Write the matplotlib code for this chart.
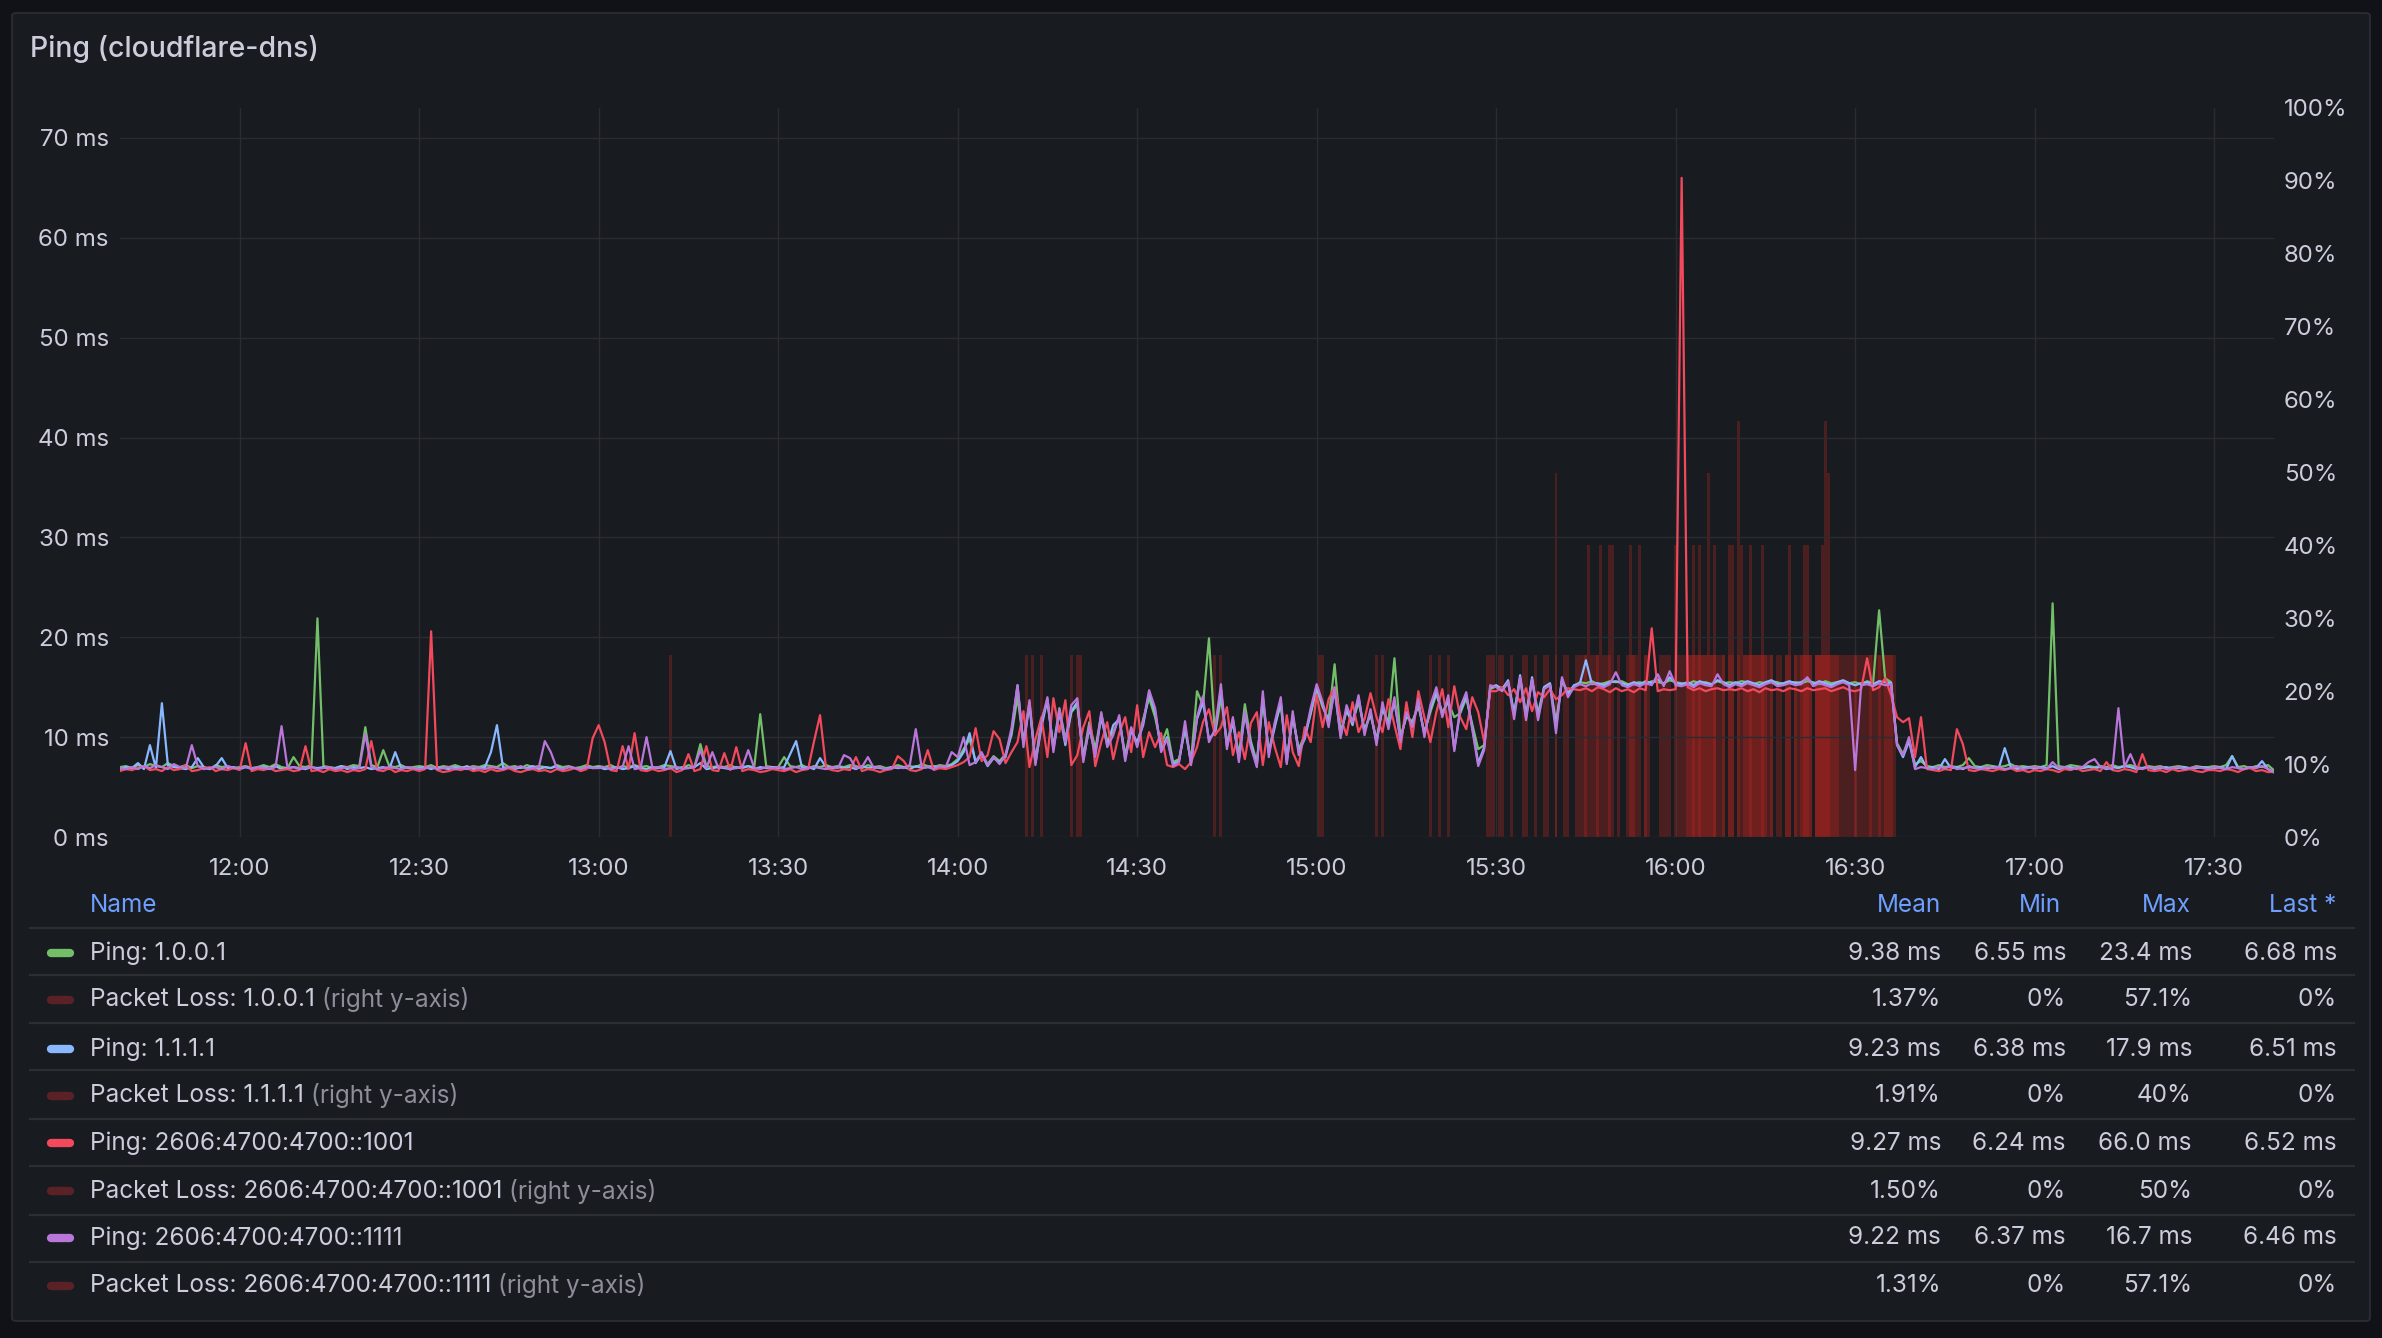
import numpy as np
import matplotlib
matplotlib.use("Agg")
import matplotlib.pyplot as plt
from matplotlib.patches import FancyBboxPatch
from matplotlib.lines import Line2D

plt.rcParams['font.family'] = ['Inter', 'DejaVu Sans']

W, H = 2382, 1338

title = "Ping (cloudflare-dns)"

# time axis: one ping sample per minute, minute 0 = 11:40, minute 360 = 17:40
x_tick_labels = ["12:00", "12:30", "13:00", "13:30", "14:00", "14:30",
                 "15:00", "15:30", "16:00", "16:30", "17:00", "17:30"]
ms_ticks = [0, 10, 20, 30, 40, 50, 60, 70]
pct_ticks = [0, 10, 20, 30, 40, 50, 60, 70, 80, 90, 100]

# ---- ping values (ms), rows of 10 minutes ----
ping_1001 = [  # Ping: 1.0.0.1
    7.0, 7.1, 6.9, 7.2, 7.0, 7.3, 7.1, 7.0, 7.4, 7.1,      # 11:40
    7.0, 7.2, 6.9, 7.1, 7.0, 6.8, 7.2, 7.0, 7.1, 6.9,      # 11:50
    7.0, 7.1, 6.9, 7.0, 7.2, 7.0, 7.3, 7.0, 6.9, 8.0,      # 12:00
    7.1, 7.0, 7.2, 21.9, 7.1, 7.0, 6.9, 7.1, 7.0, 7.2,     # 12:10
    7.1, 11.0, 7.2, 7.0, 8.7, 7.1, 7.0, 7.2, 6.9, 7.0,     # 12:20
    7.1, 7.0, 7.2, 6.9, 7.1, 7.0, 7.2, 7.0, 6.9, 7.1,      # 12:30
    7.0, 7.2, 7.1, 7.0, 7.4, 7.0, 7.1, 6.9, 7.2, 7.0,      # 12:40
    7.1, 7.0, 6.9, 7.2, 7.0, 7.1, 6.9, 7.0, 7.2, 7.0,      # 12:50
    7.1, 7.0, 7.2, 6.9, 7.1, 7.0, 7.2, 7.0, 7.1, 6.9,      # 13:00
    7.0, 7.2, 7.1, 7.0, 6.9, 7.2, 7.0, 9.3, 7.1, 7.0,      # 13:10
    7.1, 7.0, 7.2, 6.9, 7.0, 7.1, 7.0, 12.3, 7.1, 7.0,     # 13:20
    7.0, 8.0, 7.1, 7.0, 7.2, 6.9, 7.1, 7.0, 7.2, 7.0,      # 13:30
    7.1, 7.0, 7.2, 7.1, 6.9, 7.2, 7.0, 7.1, 6.9, 7.0,      # 13:40
    7.2, 7.0, 7.1, 7.0, 7.3, 7.1, 7.0, 7.2, 7.1, 7.3,      # 13:50
    7.8, 8.8, 9.8, 7.6, 8.4, 7.3, 8.1, 7.6, 8.3, 10.2,     # 14:00
    14.0, 9.5, 13.5, 7.6, 11.8, 13.5, 9.0, 12.9, 9.8, 12.5,  # 14:10
    13.2, 8.0, 11.5, 8.8, 12.3, 9.6, 10.5, 11.9, 8.2, 10.9,  # 14:20
    9.2, 11.8, 13.9, 12.0, 9.2, 10.8, 7.5, 7.8, 10.8, 7.6,   # 14:30
    14.6, 13.2, 19.9, 10.2, 14.0, 9.4, 11.8, 8.2, 13.3, 9.6,  # 14:40
    7.5, 13.6, 8.6, 11.3, 13.2, 7.8, 12.0, 8.8, 10.2, 12.3,  # 14:50
    14.8, 13.0, 11.8, 17.3, 10.5, 12.6, 11.5, 13.5, 10.8, 12.2,  # 15:00
    9.8, 12.8, 11.5, 17.9, 10.0, 12.0, 11.6, 13.1, 10.5, 12.5,   # 15:10
    14.3, 12.5, 13.5, 12.0, 12.4, 13.9, 11.3, 8.8, 9.2, 14.8,    # 15:20
    15.1, 14.9, 15.4, 12.5, 15.8, 12.3, 15.7, 12.4, 15.0, 15.3,  # 15:30
    11.5, 15.6, 14.5, 15.1, 15.5, 15.4, 15.6, 15.3, 15.4, 15.6,  # 15:40
    15.5, 15.6, 15.3, 15.4, 15.5, 15.3, 15.6, 15.5, 15.4, 15.7,  # 15:50
    15.5, 15.4, 15.3, 15.6, 15.4, 15.5, 15.3, 15.6, 15.4, 15.5,  # 16:00
    15.4, 15.6, 15.5, 15.3, 15.5, 15.4, 15.6, 15.5, 15.3, 15.5,  # 16:10
    15.5, 15.4, 15.6, 15.5, 15.3, 15.6, 15.4, 15.5, 15.6, 15.4,  # 16:20
    15.5, 15.3, 15.6, 15.4, 22.7, 15.9, 15.5, 9.4, 8.3, 9.8,     # 16:30
    7.3, 7.6, 7.1, 7.0, 7.2, 7.0, 7.1, 7.0, 7.2, 7.9,      # 16:40
    7.1, 7.0, 7.2, 7.1, 7.0, 7.1, 7.3, 7.0, 7.1, 7.0,      # 16:50
    7.1, 7.0, 7.2, 23.4, 7.1, 7.0, 7.2, 7.1, 7.0, 7.1,     # 17:00
    7.0, 7.1, 7.0, 7.2, 7.0, 7.1, 7.2, 7.0, 6.9, 7.1,      # 17:10
    7.0, 7.1, 6.9, 7.0, 7.1, 7.0, 6.9, 7.1, 7.0, 7.0,      # 17:20
    7.1, 7.0, 7.2, 8.1, 7.0, 7.1, 6.9, 7.1, 7.0, 7.2,      # 17:30
    6.68,                                                  # 17:40
]

ping_1111 = [  # Ping: 1.1.1.1
    6.8, 7.0, 6.9, 7.4, 6.8, 9.2, 6.9, 13.4, 7.2, 7.0,
    6.9, 6.8, 7.0, 7.9, 7.0, 6.8, 7.1, 7.9, 6.9, 7.0,
    6.8, 7.0, 6.9, 6.8, 7.0, 6.9, 7.1, 6.8, 6.9, 7.0,
    6.9, 6.8, 7.0, 6.9, 7.0, 6.8, 6.9, 7.1, 6.8, 7.0,
    6.9, 7.0, 6.8, 6.9, 7.0, 6.8, 8.5, 6.9, 7.0, 6.8,
    6.9, 7.0, 6.8, 7.0, 6.9, 6.8, 7.0, 6.9, 7.1, 6.8,
    6.9, 7.0, 8.5, 11.2, 7.0, 6.9, 6.8, 7.0, 6.9, 7.1,
    6.8, 7.0, 6.9, 7.1, 6.8, 7.0, 6.9, 6.8, 7.0, 6.9,
    7.0, 6.8, 6.9, 7.0, 6.8, 6.9, 7.1, 6.9, 6.8, 7.0,
    6.9, 7.0, 8.6, 6.8, 7.0, 6.9, 7.0, 7.4, 6.8, 6.9,
    7.0, 6.9, 6.8, 7.0, 6.9, 7.1, 6.8, 7.0, 6.9, 7.0,
    6.9, 7.0, 8.3, 9.6, 6.9, 7.0, 6.8, 7.9, 7.0, 6.9,
    7.0, 6.9, 7.0, 6.8, 7.1, 6.9, 7.0, 6.9, 6.8, 7.0,
    6.9, 7.0, 6.8, 7.1, 6.9, 7.0, 7.1, 6.9, 7.0, 7.2,
    7.6, 8.5, 10.4, 7.4, 8.3, 7.1, 7.9, 7.5, 8.0, 10.5,
    15.2, 9.3, 13.2, 7.4, 11.0, 13.8, 8.8, 12.5, 9.2, 12.6,
    13.5, 7.8, 10.9, 8.4, 12.0, 9.2, 11.2, 11.8, 7.9, 10.6,
    9.5, 11.2, 14.5, 12.5, 8.8, 10.0, 7.3, 7.6, 11.0, 7.4,
    11.8, 13.5, 9.8, 10.5, 14.8, 9.1, 11.5, 7.8, 12.3, 9.3,
    7.2, 14.0, 8.4, 11.0, 13.6, 7.5, 12.2, 8.6, 9.8, 12.5,
    15.0, 13.2, 11.5, 14.7, 10.2, 12.8, 11.2, 14.0, 10.5, 12.5,
    9.5, 13.0, 11.2, 13.5, 9.8, 12.2, 11.3, 13.4, 10.3, 12.8,
    14.6, 12.2, 13.8, 8.8, 12.6, 14.2, 11.0, 7.4, 9.0, 15.0,
    15.2, 14.8, 15.7, 12.2, 16.2, 12.0, 16.0, 12.0, 15.0, 15.4,
    11.0, 15.8, 14.3, 15.2, 15.4, 17.7, 15.3, 15.4, 15.2, 15.5,
    15.6, 15.4, 15.2, 15.5, 15.3, 15.6, 15.4, 15.8, 15.3, 16.0,
    15.4, 15.3, 15.5, 15.2, 15.6, 15.4, 15.3, 15.7, 15.5, 15.2,
    15.5, 15.3, 15.6, 15.4, 15.2, 15.5, 15.7, 15.3, 15.4, 15.6,
    15.4, 15.5, 15.9, 15.3, 15.6, 15.4, 15.2, 15.5, 15.7, 15.4,
    15.2, 15.4, 15.5, 15.3, 15.6, 15.5, 15.4, 9.2, 8.0, 9.6,
    7.0, 8.0, 6.9, 7.0, 6.8, 7.8, 6.9, 7.0, 6.8, 7.1,
    6.9, 7.0, 6.8, 7.0, 6.9, 8.9, 7.0, 6.8, 6.9, 7.0,
    6.8, 7.0, 6.9, 7.1, 6.8, 6.9, 7.0, 6.8, 6.9, 7.0,
    6.9, 7.0, 6.8, 7.0, 6.9, 7.1, 7.0, 6.8, 6.9, 7.0,
    6.8, 6.9, 7.0, 6.8, 6.9, 7.0, 6.8, 6.9, 7.0, 6.9,
    6.9, 7.0, 6.8, 8.1, 6.9, 6.8, 7.0, 6.9, 7.6, 6.8,
    6.51,
]

ping_v6_1001 = [  # Ping: 2606:4700:4700::1001
    6.6, 6.8, 6.7, 6.9, 7.1, 6.7, 6.8, 6.6, 7.0, 6.7,
    6.8, 7.2, 6.6, 6.7, 6.9, 7.0, 6.6, 6.8, 6.7, 6.9,
    6.7, 9.4, 6.6, 6.8, 6.7, 6.9, 6.6, 6.7, 6.8, 6.6,
    6.7, 9.1, 6.6, 6.7, 6.5, 6.8, 6.6, 6.7, 6.5, 6.7,
    6.6, 6.8, 9.6, 6.7, 6.6, 6.9, 6.5, 6.7, 6.6, 6.8,
    6.6, 6.8, 20.6, 6.7, 6.5, 6.6, 6.8, 6.7, 6.9, 6.6,
    6.7, 6.5, 6.8, 6.6, 6.7, 6.9, 6.6, 6.5, 6.7, 6.8,
    6.6, 6.7, 6.5, 6.8, 6.6, 6.7, 6.9, 6.6, 6.8, 9.9,
    11.2, 9.5, 6.7, 6.6, 9.1, 6.8, 10.4, 6.7, 6.6, 6.8,
    6.6, 6.7, 6.9, 6.5, 6.7, 8.3, 6.6, 6.8, 9.1, 6.7,
    6.6, 8.4, 6.7, 9.0, 6.6, 6.8, 6.7, 6.5, 6.6, 6.8,
    6.7, 6.6, 6.8, 6.5, 6.7, 6.8, 9.6, 12.2, 6.9, 6.7,
    6.6, 6.8, 6.7, 8.0, 6.6, 6.8, 6.7, 6.5, 6.7, 6.8,
    8.1, 7.6, 6.7, 6.6, 6.8, 8.7, 6.7, 6.9, 6.8, 7.0,
    7.2, 7.5, 8.0, 10.9, 7.6, 8.2, 10.6, 9.8, 7.4, 8.5,
    9.5, 12.6, 7.0, 9.8, 12.0, 8.0, 13.9, 10.5, 13.7, 7.2,
    8.2, 11.0, 12.6, 7.1, 9.5, 11.5, 7.8, 10.4, 12.0, 8.5,
    13.2, 8.0, 10.5, 9.0, 10.4, 7.2, 7.0, 7.3, 6.8, 7.5,
    9.0, 11.5, 12.8, 10.2, 11.0, 13.0, 8.2, 10.5, 7.8, 11.4,
    12.5, 7.2, 11.5, 9.0, 7.0, 12.2, 8.5, 7.1, 11.0, 9.5,
    14.2, 11.0, 13.8, 15.0, 12.0, 10.2, 13.5, 10.5, 11.8, 14.4,
    12.0, 10.5, 13.8, 11.2, 8.8, 13.5, 10.0, 14.6, 12.0, 9.5,
    12.5, 14.8, 11.0, 15.1, 12.0, 10.8, 14.0, 12.5, 9.5, 14.6,
    14.6, 15.0, 14.2, 14.8, 13.5, 14.9, 12.6, 14.5, 14.0, 14.8,
    13.8, 14.2, 14.9, 14.8, 14.7, 14.9, 14.6, 15.0, 14.8, 14.5,
    14.9, 14.6, 14.8, 14.5, 14.9, 14.7, 20.9, 14.6, 14.8, 14.7,
    14.8, 66.0, 15.0, 14.7, 14.9, 14.6, 14.8, 14.9, 14.7, 14.8,
    14.7, 14.9, 14.6, 14.8, 14.5, 14.9, 14.7, 14.8, 14.6, 14.9,
    14.8, 14.6, 14.9, 14.7, 14.8, 14.9, 14.6, 14.8, 15.0, 14.7,
    14.6, 14.8, 17.9, 14.7, 15.0, 15.9, 14.2, 12.0, 11.5, 11.9,
    8.0, 12.0, 6.8, 6.7, 6.6, 6.8, 6.7, 10.8, 9.3, 6.7,
    6.6, 6.8, 6.7, 6.6, 6.8, 6.7, 6.9, 6.6, 6.7, 6.5,
    6.7, 6.6, 6.8, 6.7, 6.5, 6.8, 6.7, 6.9, 6.6, 6.7,
    6.8, 6.6, 7.5, 6.7, 6.6, 6.8, 6.7, 6.5, 8.3, 6.7,
    6.6, 6.7, 6.5, 6.8, 6.6, 6.7, 6.8, 6.6, 6.5, 6.7,
    6.7, 6.6, 6.8, 6.7, 6.5, 6.8, 6.9, 6.6, 6.7, 6.5,
    6.52,
]

ping_v6_1111 = [  # Ping: 2606:4700:4700::1111
    6.9, 6.8, 7.0, 6.8, 7.1, 6.9, 7.2, 7.0, 6.8, 7.3,
    7.0, 6.9, 9.2, 7.1, 6.8, 6.9, 7.0, 6.8, 7.1, 6.9,
    6.9, 7.0, 6.8, 7.0, 6.9, 6.8, 7.0, 11.1, 6.9, 7.0,
    6.8, 6.9, 7.0, 6.8, 6.9, 7.0, 6.8, 6.9, 7.0, 6.8,
    6.9, 10.3, 7.0, 6.8, 6.9, 7.0, 6.9, 6.8, 7.0, 6.9,
    6.8, 6.9, 7.0, 6.8, 6.9, 7.0, 6.8, 6.9, 6.8, 7.0,
    6.9, 6.8, 7.0, 6.9, 6.8, 7.0, 6.9, 7.1, 6.8, 6.9,
    7.0, 9.6, 8.5, 6.9, 6.8, 7.0, 6.9, 6.8, 7.0, 6.9,
    6.9, 7.0, 6.8, 6.9, 7.0, 9.1, 6.8, 6.9, 10.0, 6.9,
    7.0, 6.8, 6.9, 7.0, 6.8, 6.9, 7.0, 8.7, 6.9, 8.5,
    6.9, 7.0, 6.8, 6.9, 7.0, 8.7, 6.9, 6.8, 7.0, 6.9,
    7.0, 6.8, 6.9, 7.0, 6.8, 6.9, 7.0, 6.9, 6.8, 7.0,
    6.9, 8.2, 7.9, 6.9, 7.0, 8.0, 6.9, 7.0, 6.8, 6.9,
    7.0, 6.9, 7.2, 10.8, 6.9, 7.0, 6.8, 7.1, 7.0, 8.5,
    8.0, 10.0, 7.2, 7.5, 8.5, 7.2, 8.0, 7.3, 8.2, 10.9,
    15.2, 9.0, 13.7, 7.2, 11.5, 14.0, 8.5, 12.8, 9.5, 13.2,
    13.9, 7.5, 11.2, 8.0, 12.5, 9.0, 10.2, 12.2, 7.6, 11.0,
    9.0, 11.5, 14.7, 12.9, 8.5, 9.8, 7.1, 7.5, 11.6, 7.2,
    12.0, 14.1, 9.5, 10.8, 15.3, 8.8, 12.0, 7.5, 12.6, 9.0,
    7.0, 14.6, 8.0, 11.5, 14.0, 7.3, 12.6, 8.2, 10.0, 12.9,
    15.3, 13.5, 11.0, 15.0, 9.9, 13.2, 11.5, 14.2, 10.2, 12.8,
    9.2, 13.5, 10.8, 14.0, 9.5, 12.5, 11.0, 13.8, 10.0, 13.2,
    15.0, 12.0, 14.2, 8.6, 13.0, 14.5, 10.8, 7.1, 8.7, 15.2,
    15.0, 14.6, 15.5, 11.8, 16.0, 11.7, 15.8, 11.7, 14.8, 15.2,
    10.4, 16.0, 14.0, 15.0, 15.3, 15.1, 15.4, 15.2, 15.0, 15.3,
    16.5, 15.2, 15.0, 15.3, 15.1, 15.4, 15.2, 16.3, 15.1, 16.6,
    15.2, 15.1, 15.3, 15.0, 15.4, 15.2, 15.1, 16.3, 15.3, 15.0,
    15.3, 15.1, 15.4, 15.2, 15.0, 15.3, 15.5, 15.1, 15.2, 15.4,
    15.2, 15.3, 16.0, 15.1, 15.4, 15.2, 15.0, 15.3, 15.5, 15.2,
    6.7, 15.2, 15.3, 15.1, 15.4, 15.2, 15.3, 9.2, 8.2, 10.0,
    6.8, 7.0, 6.9, 6.8, 7.0, 6.9, 7.1, 6.8, 6.9, 7.0,
    6.9, 6.8, 7.0, 6.9, 7.0, 6.8, 6.9, 7.1, 6.8, 6.9,
    7.0, 6.9, 6.8, 7.5, 6.9, 7.0, 6.8, 6.9, 7.0, 7.5,
    7.8, 7.0, 6.9, 6.8, 12.9, 7.0, 8.3, 6.9, 6.8, 7.0,
    6.9, 7.0, 6.8, 6.9, 7.0, 6.8, 6.9, 7.0, 6.9, 6.8,
    7.0, 6.9, 6.8, 7.0, 6.9, 6.8, 7.0, 6.9, 7.1, 6.8,
    6.46,
]

# ---- packet loss (%): sample minute (after 11:40) and value ----
loss_1001_min = [154, 160.5, 200.5, 222, 230.5, 236.5, 241.5, 247, 252.5, 255,
                 262, 262.5, 263, 263.5, 264, 264.5, 265, 265.5, 266, 266.5,
                 270.5,
                 281, 281.5, 282, 282.5,
                 286, 286.5, 287, 288, 289, 289.5, 290, 290.5,
                 292, 294, 295]
loss_1001_pct = [25, 25, 25, 25, 25, 25, 25, 25, 25, 25,
                 25, 25, 25, 25, 25, 25, 25, 25, 25, 25,
                 57.1,
                 25, 25, 25, 25,
                 25, 25, 25, 25, 25, 25, 25, 25,
                 25, 25, 25]

loss_1111_min = [151.5, 159, 184, 210, 220.5, 229.5, 232.5, 235, 238.5, 242,
                 243.5, 244, 244.5, 245, 245.5, 246, 246.5, 247, 247.5, 248,
                 248.5, 249, 249.5, 250.5, 252, 252.5, 253,
                 253.5, 254, 255, 255.5,
                 257.5, 258, 259, 260, 260.5, 261.5,
                 263, 264, 266.5, 269, 269.5, 271, 272.5, 274.5, 279, 281.5, 282,
                 283.5, 284, 284.5, 285, 285.5,
                 291, 291.5, 292.5, 293.5, 294.5, 295.5, 296, 296.5]
loss_1111_pct = [25, 25, 25, 25, 25, 25, 25, 25, 25, 25,
                 25, 25, 25, 25, 40, 25, 25, 25, 40, 25,
                 25, 40, 40, 25, 25, 40, 25,
                 25, 40, 25, 25,
                 25, 25, 25, 40, 25, 25,
                 40, 40, 40, 40, 40, 40, 40, 40, 40, 40, 40,
                 25, 25, 40, 25, 25,
                 25, 25, 25, 25, 25, 25, 25, 25]

loss_v6_1001_min = [92, 160, 201, 219, 228.5, 231, 234.5, 238, 240,
                    245, 249, 253,
                    262, 262.5, 263, 263.5, 264, 264.5, 265, 265.5, 266, 266.5,
                    268, 271.5, 272, 272.5, 273, 273.5, 274, 274.5, 275, 276, 278.5, 280,
                    281, 281.5, 282, 282.5,
                    283.5, 284, 284.5, 285, 285.5,
                    286, 286.5, 287, 287.5, 288.5, 290,
                    293, 294, 295, 296]
loss_v6_1001_pct = [25, 25, 25, 25, 25, 25, 25, 25, 50,
                    25, 25, 25,
                    25, 25, 25, 25, 25, 25, 25, 50, 25, 25,
                    25, 25, 25, 25, 25, 25, 25, 25, 25, 25, 25, 25,
                    25, 25, 25, 25,
                    25, 25, 25, 25, 50,
                    25, 25, 25, 25, 25, 25,
                    25, 25, 25, 25]

loss_v6_1111_min = [152.5, 183, 211, 229, 240, 258.5, 261,
                    267, 267.5, 268, 269, 269.5, 270.5, 271.5,
                    272, 272.5, 273, 273.5, 274, 274.5, 275, 275.5, 276,
                    277, 277.5, 278.5, 279, 280, 280.5,
                    283.5, 284, 284.5, 285, 285.5,
                    292.5, 295.5]
loss_v6_1111_pct = [25, 25, 25, 25, 25, 25, 25,
                    25, 25, 25, 25, 25, 25, 25,
                    25, 25, 25, 25, 25, 25, 25, 25, 25,
                    25, 25, 25, 25, 25, 25,
                    25, 25, 25, 57.1, 25,
                    25, 25]

# ---- legend table ----
legend_names = ["Ping: 1.0.0.1", "Packet Loss: 1.0.0.1",
                "Ping: 1.1.1.1", "Packet Loss: 1.1.1.1",
                "Ping: 2606:4700:4700::1001", "Packet Loss: 2606:4700:4700::1001",
                "Ping: 2606:4700:4700::1111", "Packet Loss: 2606:4700:4700::1111"]
legend_mean = ["9.38 ms", "1.37%", "9.23 ms", "1.91%", "9.27 ms", "1.50%", "9.22 ms", "1.31%"]
legend_min = ["6.55 ms", "0%", "6.38 ms", "0%", "6.24 ms", "0%", "6.37 ms", "0%"]
legend_max = ["23.4 ms", "57.1%", "17.9 ms", "40%", "66.0 ms", "50%", "16.7 ms", "57.1%"]
legend_last = ["6.68 ms", "0%", "6.51 ms", "0%", "6.52 ms", "0%", "6.46 ms", "0%"]
legend_headers = ["Mean", "Min", "Max", "Last *"]

# colours
c_green = '#73bf69'
c_blue = '#8ab8ff'
c_red = '#f2495c'
c_purple = '#b877d9'
c_loss = '#c22522'
c_loss_swatch = '#5a2226'
c_text = '#ccccdc'
c_text_dim = '#8e8e9b'
c_head = '#6e9fff'
c_grid = '#2a2c31'

fs_legend = 17.5
fs_tick = 17.3


def clock_to_min(s):
    h, m = s.split(':')
    return (int(h) - 11) * 60 + int(m) - 40


def fx(px):
    return px / W


def fy(py):
    return 1 - py / H


fig = plt.figure(figsize=(W / 100, H / 100), dpi=100)
fig.patch.set_facecolor('#111217')

panel = FancyBboxPatch((fx(12), fy(1321)), (2370 - 12) / W, (1321 - 13) / H,
                       boxstyle='round,pad=0,rounding_size=0.002',
                       transform=fig.transFigure, facecolor='#181b1f',
                       edgecolor='#2a2d33', linewidth=1.3, zorder=-10)
fig.patches.append(panel)

fig.text(fx(30), fy(49), title, color=c_text, fontsize=20.5, fontweight='medium',
         ha='left', va='center')

ax2 = fig.add_axes([fx(120), fy(837), (2274 - 120) / W, (837 - 108) / H])
ax = ax2.twinx()
ax.yaxis.tick_left()
ax2.yaxis.tick_right()
ax2.set_facecolor('none')
ax.patch.set_visible(False)

# packet loss bars on the right (%) axis
for mins, pct in [(loss_1001_min, loss_1001_pct), (loss_1111_min, loss_1111_pct),
                  (loss_v6_1001_min, loss_v6_1001_pct), (loss_v6_1111_min, loss_v6_1111_pct)]:
    ax2.bar(mins, pct, width=0.5, color=c_loss, alpha=0.3, linewidth=0, zorder=1)

t = np.arange(len(ping_1001))
for vals, col in [(ping_1001, c_green), (ping_1111, c_blue),
                  (ping_v6_1001, c_red), (ping_v6_1111, c_purple)]:
    ax.plot(t, vals, color=col, lw=1.6, zorder=3)

ax.set_xlim(0, 360)
ax.set_ylim(0, 73)
ax2.set_ylim(0, 100)
ax.set_yticks(ms_ticks)
ax.set_yticklabels([f"{v} ms" for v in ms_ticks])
ax2.set_yticks(pct_ticks)
ax2.set_yticklabels([f"{v}%" for v in pct_ticks])
ax2.set_xticks([clock_to_min(s) for s in x_tick_labels])
ax2.set_xticklabels(x_tick_labels)

ax.yaxis.grid(True, color=c_grid, lw=1.0)
ax2.xaxis.grid(True, color=c_grid, lw=1.0)
ax2.set_axisbelow(True)
ax.tick_params(axis='y', length=0, pad=8, colors=c_text, labelsize=fs_tick)
ax2.tick_params(axis='y', length=0, pad=7, colors=c_text, labelsize=fs_tick)
ax2.tick_params(axis='x', length=0, pad=15, colors=c_text, labelsize=fs_tick)
for a in (ax, ax2):
    for sp in a.spines.values():
        sp.set_visible(False)

# legend table
header_y = 906
row_y = [953, 1000, 1049, 1096, 1143, 1191, 1238, 1286]
sep_y = [928, 975, 1023, 1070, 1119, 1166, 1215, 1262]
col_right = [1941, 2066, 2192, 2337]
swatch_cols = [c_green, c_loss_swatch, c_blue, c_loss_swatch,
               c_red, c_loss_swatch, c_purple, c_loss_swatch]

fig.text(fx(90), fy(header_y), "Name", color=c_head, fontsize=fs_legend, ha='left', va='center')
for hdr, xr in zip(legend_headers, [1941, 2061, 2191, 2336]):
    fig.text(fx(xr), fy(header_y), hdr, color=c_head, fontsize=fs_legend, ha='right', va='center')

for sy in sep_y:
    fig.lines.append(Line2D([fx(30), fx(2354)], [fy(sy), fy(sy)], transform=fig.transFigure,
                            color='#2c2e33', lw=1.6))

fig.canvas.draw()
for i, name in enumerate(legend_names):
    y = fy(row_y[i])
    fig.lines.append(Line2D([fx(51), fx(70)], [y, y], transform=fig.transFigure,
                            color=swatch_cols[i], lw=6, solid_capstyle='round'))
    txt = fig.text(fx(90), y, name, color=c_text, fontsize=fs_legend, ha='left', va='center')
    if name.startswith("Packet"):
        bb = txt.get_window_extent(renderer=fig.canvas.get_renderer())
        fig.text(bb.x1 / W + fx(7), y, "(right y-axis)", color=c_text_dim, fontsize=fs_legend,
                 ha='left', va='center')
    for vals, xr in zip([legend_mean, legend_min, legend_max, legend_last], col_right):
        fig.text(fx(xr), y, vals[i], color=c_text, fontsize=fs_legend, ha='right', va='center')

fig.savefig("out.png", dpi=100, facecolor=fig.get_facecolor())
